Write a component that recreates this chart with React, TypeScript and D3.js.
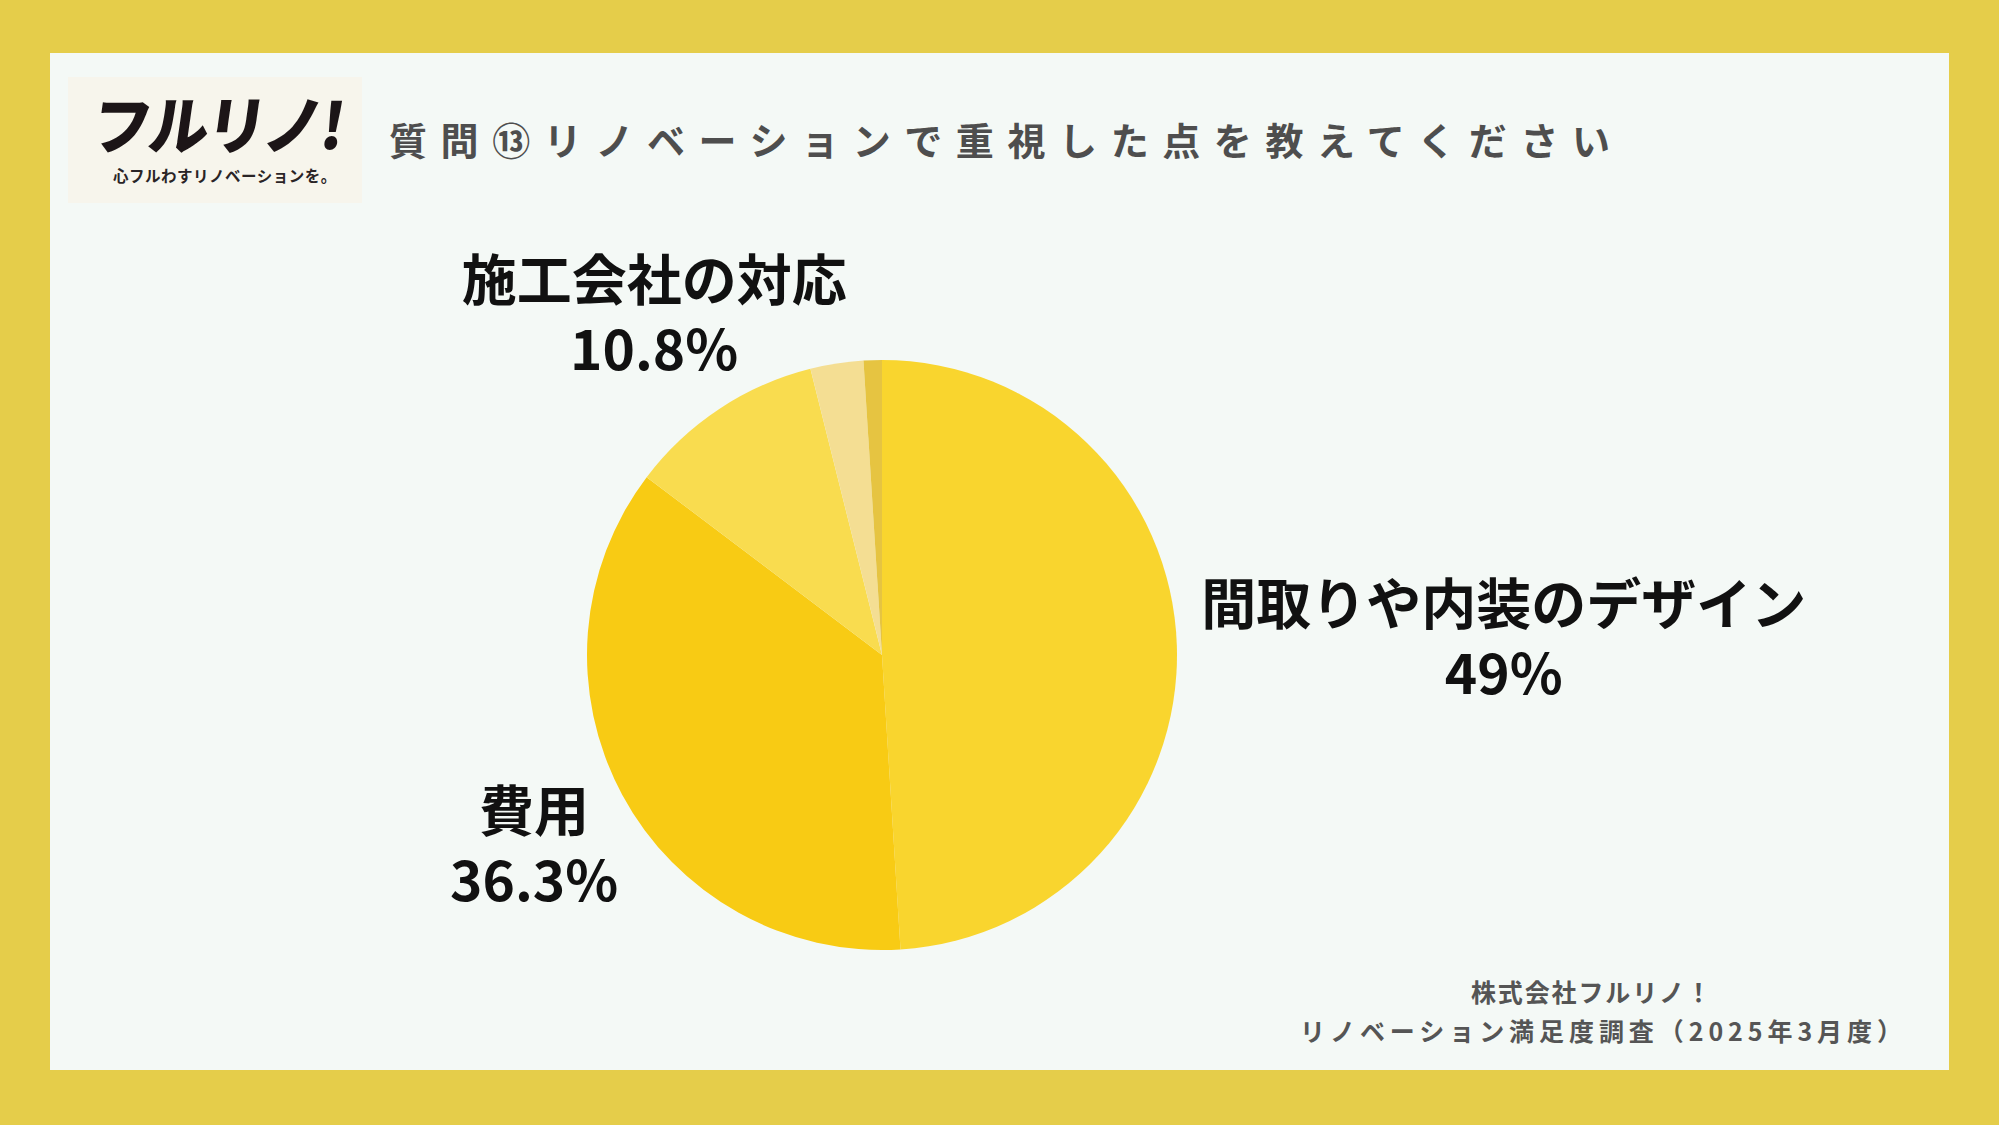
import React from 'react';
import * as d3 from 'd3';

// Survey answers, clockwise from 12 o'clock
const categories = ['間取りや内装のデザイン', '費用', '施工会社の対応', 'その他', '無回答'];
const shares = [49, 36.3, 10.8, 2.9, 1.0];
const shareLabels = ['49%', '36.3%', '10.8%', '', ''];
const sliceColors = ['#F9D52E', '#F8CB14', '#F9DC4F', '#F4DE93', '#E6C441'];

const titleText = '質問⑬リノベーションで重視した点を教えてください';
const footerLines = ['株式会社フルリノ！', 'リノベーション満足度調査（2025年3月度）'];

const W = 1999;
const H = 1125;
const cx = 882;
const cy = 655;
const radius = 295;
// distance from the pie centre to each label block
const labelRadius = [622, 395, 413, 0, 0];
// footer lines: width and centre x
const footerWidths = [240, 602];
const footerX = [1591, 1601];

const jp = '"Noto Sans CJK JP", "Noto Sans", sans-serif';

interface Slice {
    name: string;
    value: number;
    label: string;
    color: string;
    labelR: number;
}

const slices: Slice[] = categories.map((name, i) => ({
    name,
    value: shares[i],
    label: shareLabels[i],
    color: sliceColors[i],
    labelR: labelRadius[i],
}));

export default function App() {
    const pie = d3.pie<Slice>().sort(null).value(d => d.value);
    const arcs = pie(slices);
    const arc = d3.arc<d3.PieArcDatum<Slice>>().innerRadius(0).outerRadius(radius);

    return (
        <svg width={W} height={H} viewBox={`0 0 ${W} ${H}`}
            style={{ position: 'absolute', left: 0, top: 0, display: 'block' }}>
            <rect x={0} y={0} width={W} height={H} fill="#E5CD4A" />
            <rect x={50} y={53} width={1899} height={1017} fill="#F4F9F6" />

            {/* logo */}
            <g>
                <rect x={68} y={77} width={294} height={126} fill="#F7F5EC" />
                <text x={90} y={149} fontFamily={jp} fontWeight={900} fontSize={63}
                    fill="#1c1517" letterSpacing={-3} textLength={250} lengthAdjust="spacingAndGlyphs"
                    transform="skewX(-8) translate(20,0)">フルリノ!</text>
                <text x={113} y={182} fontFamily={jp} fontWeight={700} fontSize={15.5}
                    fill="#2a2426" letterSpacing={0.5}>心フルわすリノベーションを。</text>
            </g>

            <text x={389} y={138} dominantBaseline="central" fontFamily={jp} fontWeight={700}
                fontSize={38} fill="#4e4e4e" letterSpacing={13.6}>{titleText}</text>

            <g transform={`translate(${cx},${cy})`}>
                {arcs.map((a, i) => (
                    <path key={i} d={arc(a) ?? ''} fill={a.data.color} />
                ))}
                {arcs.filter(a => a.data.label).map((a, i) => {
                    const r = a.data.labelR;
                    const [lx, ly] = d3.arc<d3.PieArcDatum<Slice>>()
                        .innerRadius(r).outerRadius(r).centroid(a);
                    return (
                        <g key={i} fontFamily={jp} fontWeight={700} fontSize={55}
                            fill="#111" textAnchor="middle">
                            <text x={lx} y={ly - 35} dominantBaseline="central">{a.data.name}</text>
                            <text x={lx} y={ly + 35} dominantBaseline="central">{a.data.label}</text>
                        </g>
                    );
                })}
            </g>

            <g fontFamily={jp} fontWeight={700} fontSize={25} fill="#555" textAnchor="middle">
                {footerLines.map((t, i) => (
                    <text key={i} x={footerX[i]} y={991 + i * 39} dominantBaseline="central"
                        textLength={footerWidths[i]} lengthAdjust="spacing">{t}</text>
                ))}
            </g>
        </svg>
    );
}
